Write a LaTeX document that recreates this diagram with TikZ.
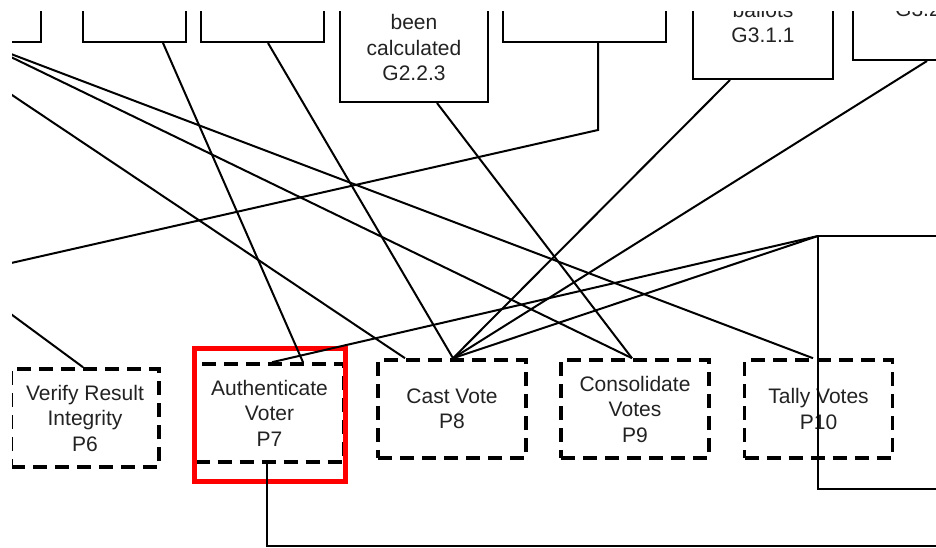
\documentclass[tikz,border=0pt]{standalone}
\usepackage{fontspec}
\setmainfont{Liberation Sans}
\usetikzlibrary{calc}
\definecolor{txt}{RGB}{34,34,34}
\begin{document}
\begin{tikzpicture}[x=1pt,y=-1pt,
  goalbox/.style={draw=black, line width=2pt, inner sep=0pt},
  gtext/.style={text=txt, align=center, inner sep=0pt, font=\fontsize{21}{25.5}\selectfont},
  procbox/.style={draw=black, line width=3.6pt, dash pattern=on 14pt off 8pt,
    minimum width=148pt, minimum height=98pt, inner sep=0pt, align=center,
    text=txt, font=\fontsize{21}{25.5}\selectfont},
  link/.style={draw=black, line width=2pt},
  hilite/.style={draw=red, line width=5pt, inner sep=0pt}
]
\useasboundingbox (0,0) rectangle (936,548);
\clip (12,12) rectangle (936,548);

% goal boxes along the top
\node[goalbox, minimum width=118pt, minimum height=82pt] (g1) at (-18,1) {};
\node[goalbox, minimum width=103pt, minimum height=82pt] (g2) at (134.5,1) {};
\node[goalbox, minimum width=123pt, minimum height=82pt] (g3) at (262.5,1) {};
\node[goalbox, minimum width=148pt, minimum height=142pt] (g4) at (414,31) {};
\node[goalbox, minimum width=163pt, minimum height=82pt] (g5) at (584.5,1) {};
\node[goalbox, minimum width=140pt, minimum height=119pt] (g6) at (763,19.5) {};
\node[goalbox, minimum width=157pt, minimum height=100pt] (g7) at (931.5,10) {};

\node[gtext] (g4t) at (414,47.5) {been\\calculated\\G2.2.3};
\node[gtext] (g6t) at (763,22.5) {ballots\\G3.1.1};
\node[gtext, anchor=west] (g7t) at (895,9.5) {G3.2};

% process boxes along the bottom
\node[procbox] (p6) at (85,418) {Verify Result\\Integrity\\P6};
\node[procbox] (p7) at (269.5,413) {Authenticate\\Voter\\P7};
\node[procbox] (p8) at (452,409) {Cast Vote\\P8};
\node[procbox] (p9) at (635,409) {Consolidate\\Votes\\P9};
\node[procbox] (p10) at (818.5,409) {Tally Votes\\P10};

% highlight frame
\node[hilite, minimum width=151pt, minimum height=133pt] (sel) at (270,415) {};

% off-canvas ends and bends
\coordinate (offc) at (-40,60.2);
\coordinate (offg) at (-40,274.6);
\coordinate (offh) at (-40,276.5);
\coordinate (bendg) at (598,130);
\coordinate (hub) at (818,236);
\coordinate (hubbot) at (818,489);
\coordinate (exittop) at (950,236);
\coordinate (exitbot) at (950,489);
\coordinate (p7drop) at (267,546);
\coordinate (exitp7) at (950,546);

% connectors
\draw[link] (g1.south) -- ($(p10.north)+(-5.5,0)$);
\draw[link] (g1.south) -- ($(p9.north)+(-3,0)$);
\draw[link] (offc) -- ($(p8.north)+(-47,0)$);
\draw[link] ($(g2.south)+(28.5,0)$) -- ($(p7.north)+(33.5,0)$);
\draw[link] ($(g3.south)+(5.5,0)$) -- ($(p8.north)+(1,0)$);
\draw[link] ($(g4.south)+(23,0)$) -- ($(p9.north)+(-3,0)$);
\draw[link] ($(g5.south)+(13.5,0)$) -- (bendg) -- (offg);
\draw[link] (offh) -- ($(p6.north)+(-2,0)$);
\draw[link] ($(g6.south)+(-33,0)$) -- ($(p8.north)+(1,0)$);
\draw[link] ($(g7.south)+(-4.5,0)$) -- ($(p8.north)+(1,0)$);
\draw[link] (hub) -- ($(p8.north)+(1,0)$);
\draw[link] (hub) -- ($(p7.north)+(2.5,0)$);
\draw[link] (exittop) -- (hub) -- (hubbot) -- (exitbot);
\draw[link] ($(p7.south)+(-2.5,0)$) -- (p7drop) -- (exitp7);
\end{tikzpicture}
\end{document}
